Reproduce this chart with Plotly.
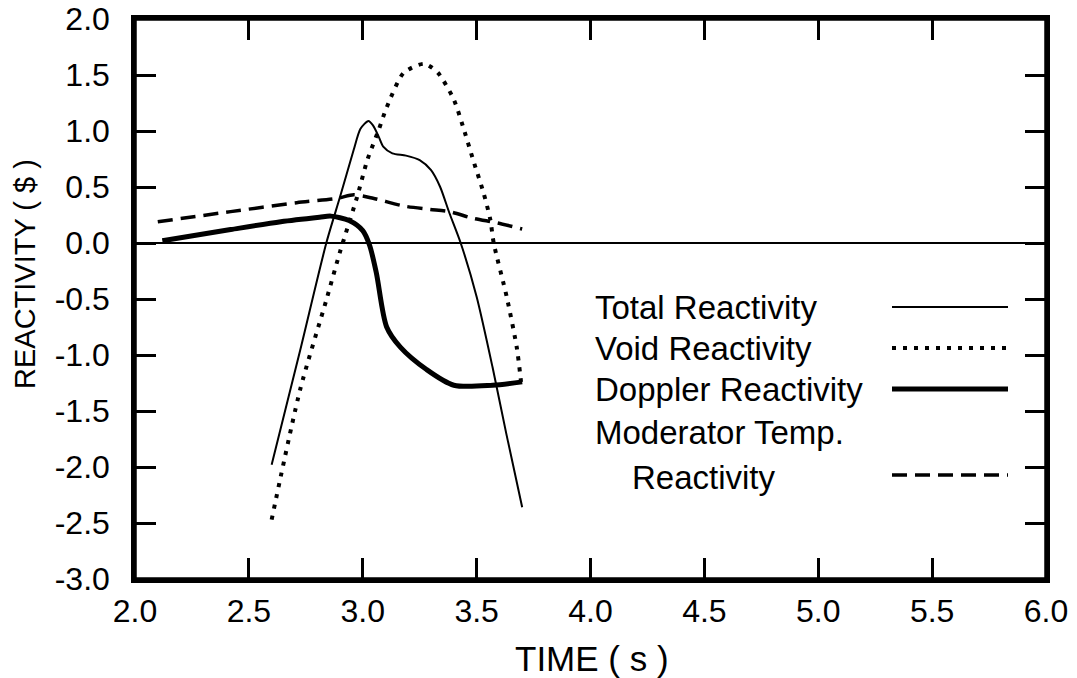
import plotly.graph_objects as go

# ---------------- data ----------------
total_t = [2.60, 2.725, 2.84, 2.90, 2.96, 2.99, 3.025, 3.045, 3.07, 3.09, 3.13, 3.19,
           3.25, 3.30, 3.34, 3.38, 3.43, 3.50, 3.57, 3.63, 3.70]
total_r = [-1.98, -0.96, 0.0, 0.41, 0.83, 1.02, 1.09, 1.05, 0.95, 0.86, 0.80, 0.78,
           0.74, 0.65, 0.50, 0.27, 0.0, -0.48, -1.11, -1.70, -2.36]

void_t = [2.60, 2.725, 2.84, 2.90, 2.975, 3.02, 3.07, 3.105, 3.18, 3.27, 3.33, 3.40,
          3.44, 3.485, 3.53, 3.56, 3.575, 3.632, 3.676, 3.695]
void_r = [-2.47, -1.31, -0.51, -0.08, 0.41, 0.74, 1.01, 1.21, 1.52, 1.60, 1.52, 1.28,
          1.04, 0.74, 0.45, 0.21, 0.0, -0.48, -0.93, -1.24]

doppler_t = [2.12, 2.42, 2.64, 2.81, 2.86, 2.94, 3.00, 3.03, 3.06, 3.105, 3.165, 3.28,
             3.40, 3.57, 3.70]
doppler_r = [0.02, 0.12, 0.19, 0.23, 0.24, 0.20, 0.11, -0.02, -0.27, -0.75, -0.93, -1.13,
             -1.27, -1.27, -1.24]

moderator_t = [2.10, 2.42, 2.71, 2.89, 2.96, 3.045, 3.18, 3.295, 3.38, 3.485, 3.59, 3.70]
moderator_r = [0.19, 0.28, 0.36, 0.40, 0.43, 0.40, 0.33, 0.30, 0.28, 0.22, 0.18, 0.125]

x_ticks = [2.0, 2.5, 3.0, 3.5, 4.0, 4.5, 5.0, 5.5, 6.0]
x_tick_labels = ["2.0", "2.5", "3.0", "3.5", "4.0", "4.5", "5.0", "5.5", "6.0"]
y_ticks = [2.0, 1.5, 1.0, 0.5, 0.0, -0.5, -1.0, -1.5, -2.0, -2.5, -3.0]
y_tick_labels = ["2.0", "1.5", "1.0", "0.5", "0.0", "-0.5", "-1.0", "-1.5", "-2.0", "-2.5", "-3.0"]

legend_labels = ["Total Reactivity", "Void Reactivity", "Doppler Reactivity",
                 "Moderator Temp.", "Reactivity"]

# ---------------- figure ----------------
W, H = 1077, 678
ML, MT = 135, 19
PW, PH = 911, 560
MR, MB = W - ML - PW, H - MT - PH
FONT = "Liberation Sans, Arial, Helvetica, sans-serif"


def px(x):  # screen pixel -> paper x
    return (x - ML) / PW


def py(y):  # screen pixel -> paper y
    return (MT + PH - y) / PH


fig = go.Figure()
fig.add_trace(go.Scatter(x=total_t, y=total_r, mode="lines",
                         line=dict(color="black", width=2, shape="spline", smoothing=0.7)))
fig.add_trace(go.Scatter(x=void_t, y=void_r, mode="lines",
                         line=dict(color="black", width=4, dash="4px,7px",
                                   shape="spline", smoothing=0.7)))
fig.add_trace(go.Scatter(x=doppler_t, y=doppler_r, mode="lines",
                         line=dict(color="black", width=5, shape="spline", smoothing=0.8)))
fig.add_trace(go.Scatter(x=moderator_t, y=moderator_r, mode="lines",
                         line=dict(color="black", width=3.5, dash="15px,8px",
                                   shape="spline", smoothing=0.7)))

axis_common = dict(showline=True, linecolor="black", linewidth=3.5, mirror="ticks",
                   ticks="inside", ticklen=21, tickwidth=2.5, tickcolor="black",
                   showgrid=False, automargin=False, ticklabeloverflow="allow",
                   tickfont=dict(family=FONT, size=32, color="black"))

fig.update_xaxes(range=[2.0, 6.0], tickvals=x_ticks, ticktext=x_tick_labels,
                 zeroline=False, ticklabelstandoff=1, **axis_common)
fig.update_yaxes(range=[-3.0, 2.0], tickvals=y_ticks, ticktext=y_tick_labels,
                 zeroline=True, zerolinecolor="black", zerolinewidth=2,
                 ticklabelstandoff=15, **axis_common)

annotations = [
    dict(text="TIME ( s )", x=px(592), y=py(658), xref="paper", yref="paper",
         xanchor="center", yanchor="middle", showarrow=False,
         font=dict(family=FONT, size=35, color="black")),
    dict(text="REACTIVITY ( $ )", x=px(25), y=py(274), xref="paper", yref="paper",
         xanchor="center", yanchor="middle", showarrow=False, textangle=-90,
         font=dict(family=FONT, size=29, color="black")),
]
legend_text_pos = [(593, 308), (593, 348), (593, 389), (593, 432), (630, 477)]
for lab, (lx, ly) in zip(legend_labels, legend_text_pos):
    annotations.append(dict(text=lab, x=px(lx), y=py(ly), xref="paper", yref="paper",
                            xanchor="left", yanchor="middle", showarrow=False,
                            font=dict(family=FONT, size=33, color="black")))

# frame of the plotting area (guarantees the top edge is drawn)
shapes = [dict(type="rect", xref="paper", yref="paper", x0=0, x1=1, y0=0, y1=1,
               line=dict(color="black", width=3.5), layer="above")]
legend_line_styles = [(307, 2, "solid"), (348, 4, "4px,7px"), (389, 5, "solid"),
                      (475, 3.5, "15px,8px")]
for ly, lw, dash in legend_line_styles:
    shapes.append(dict(type="line", xref="paper", yref="paper",
                       x0=px(892), x1=px(1008), y0=py(ly), y1=py(ly),
                       line=dict(color="black", width=lw, dash=dash)))

fig.update_layout(width=W, height=H, margin=dict(l=ML, r=MR, t=MT, b=MB, autoexpand=False),
                  plot_bgcolor="white", paper_bgcolor="white", showlegend=False,
                  annotations=annotations, shapes=shapes,
                  font=dict(family=FONT, color="black"))

fig.write_html("out.html", config={"displayModeBar": False},
               post_script="document.body.style.margin='0';"
                           "document.body.style.overflow='hidden';")
